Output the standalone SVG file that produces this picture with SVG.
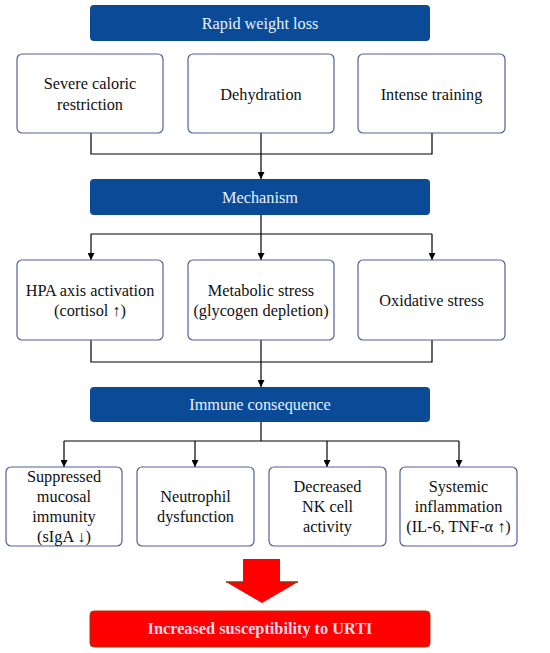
<svg xmlns="http://www.w3.org/2000/svg" width="550" height="653" viewBox="0 0 550 653">
<defs>
<style>
.hdr{fill:#0b4a97;}
.hdrt{fill:#e6f2ff;font-family:"Liberation Serif",serif;font-size:16.3px;text-anchor:middle;}
.box{fill:#ffffff;stroke:#52609a;stroke-width:1.2;}
.bt{fill:#111111;font-family:"Liberation Serif",serif;font-size:16.3px;text-anchor:middle;}
.con{fill:none;stroke:#000000;stroke-width:1.2;}
.red{fill:#ff0000;stroke:#a8380e;stroke-width:1;}
.redt{fill:#ffd6e4;font-family:"Liberation Serif",serif;font-size:16.3px;font-weight:bold;text-anchor:middle;}
</style>
<marker id="ah" viewBox="0 0 10 10" refX="10" refY="5" markerWidth="7" markerHeight="7" markerUnits="userSpaceOnUse" orient="auto">
<path d="M0,0 L10,5 L0,10 z" fill="#000000"/>
</marker>
</defs>
<rect width="550" height="653" fill="#ffffff"/>

<g id="connectors">
<path class="con" d="M91,133 V154 H432 V133"/>
<path class="con" d="M261,133 V179" marker-end="url(#ah)"/>
<path class="con" d="M261,215 V234"/>
<path class="con" d="M91,234 H432"/>
<path class="con" d="M91,234 V260" marker-end="url(#ah)"/>
<path class="con" d="M261,234 V260" marker-end="url(#ah)"/>
<path class="con" d="M432,234 V260" marker-end="url(#ah)"/>
<path class="con" d="M91,340 V362 H432 V340"/>
<path class="con" d="M261,340 V387" marker-end="url(#ah)"/>
<path class="con" d="M261,422 V441"/>
<path class="con" d="M64,441 H459"/>
<path class="con" d="M64,441 V467" marker-end="url(#ah)"/>
<path class="con" d="M195,441 V467" marker-end="url(#ah)"/>
<path class="con" d="M327,441 V467" marker-end="url(#ah)"/>
<path class="con" d="M459,441 V467" marker-end="url(#ah)"/>
</g>

<g id="rapid-weight-loss">
<rect class="hdr" x="90" y="5" width="340" height="36" rx="4"/>
<text class="hdrt" x="260" y="28.5">Rapid weight loss</text>
</g>

<g id="severe-caloric-restriction">
<rect class="box" x="17" y="54" width="146" height="79" rx="5"/>
<text class="bt" x="90" y="89">Severe caloric</text>
<text class="bt" x="90" y="110">restriction</text>
</g>
<g id="dehydration">
<rect class="box" x="188" y="54" width="146" height="79" rx="5"/>
<text class="bt" x="261" y="99.5">Dehydration</text>
</g>
<g id="intense-training">
<rect class="box" x="358" y="54" width="147" height="79" rx="5"/>
<text class="bt" x="431.5" y="99.5">Intense training</text>
</g>

<g id="mechanism">
<rect class="hdr" x="90" y="179" width="340" height="36" rx="4"/>
<text class="hdrt" x="260" y="202.5">Mechanism</text>
</g>

<g id="hpa-axis">
<rect class="box" x="17" y="260" width="146" height="80" rx="5"/>
<text class="bt" x="90" y="296">HPA axis activation</text>
<text class="bt" x="90" y="316">(cortisol ↑)</text>
</g>
<g id="metabolic-stress">
<rect class="box" x="188" y="260" width="146" height="80" rx="5"/>
<text class="bt" x="261" y="296">Metabolic stress</text>
<text class="bt" x="261" y="316">(glycogen depletion)</text>
</g>
<g id="oxidative-stress">
<rect class="box" x="358" y="260" width="147" height="80" rx="5"/>
<text class="bt" x="431.5" y="306">Oxidative stress</text>
</g>

<g id="immune-consequence">
<rect class="hdr" x="90" y="387" width="340" height="35" rx="4"/>
<text class="hdrt" x="260" y="410">Immune consequence</text>
</g>

<g id="suppressed-mucosal">
<rect class="box" x="6" y="467" width="116" height="79" rx="5"/>
<text class="bt" x="64" y="481.5">Suppressed</text>
<text class="bt" x="64" y="501.5">mucosal</text>
<text class="bt" x="64" y="521.5">immunity</text>
<text class="bt" x="64" y="541.5">(sIgA ↓)</text>
</g>
<g id="neutrophil-dysfunction">
<rect class="box" x="137" y="467" width="117" height="79" rx="5"/>
<text class="bt" x="195.5" y="501.5">Neutrophil</text>
<text class="bt" x="195.5" y="521.5">dysfunction</text>
</g>
<g id="decreased-nk">
<rect class="box" x="269" y="467" width="117" height="79" rx="5"/>
<text class="bt" x="327.5" y="491.5">Decreased</text>
<text class="bt" x="327.5" y="511.5">NK cell</text>
<text class="bt" x="327.5" y="531.5">activity</text>
</g>
<g id="systemic-inflammation">
<rect class="box" x="400" y="467" width="117" height="79" rx="5"/>
<text class="bt" x="458.5" y="491.5">Systemic</text>
<text class="bt" x="458.5" y="511.5">inflammation</text>
<text class="bt" x="458.5" y="531.5">(IL-6, TNF-α ↑)</text>
</g>

<g id="big-arrow">
<path d="M243,559 H280 V582 H298 L262,603 L226,582 H243 Z" fill="#ff0000"/>
<path d="M226,582 H243 M280,582 H298" fill="none" stroke="#8a3a10" stroke-width="1.5"/>
</g>

<g id="urti">
<rect class="red" x="90" y="611" width="340" height="36" rx="4"/>
<text class="redt" x="260" y="634">Increased susceptibility to URTI</text>
</g>
</svg>
